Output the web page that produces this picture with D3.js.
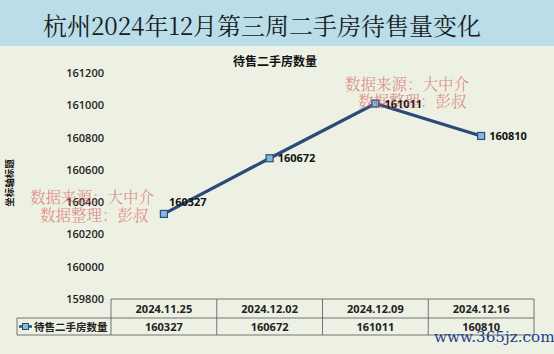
<!DOCTYPE html>
<html><head><meta charset="utf-8">
<script src="https://cdn.jsdelivr.net/npm/d3@7/dist/d3.min.js"></script>
<style>body{margin:0;background:#edf1e3;}svg{display:block;}</style>
</head><body><svg id="c" width="554" height="354"></svg>
<script>
const categories = ["2024.11.25","2024.12.02","2024.12.09","2024.12.16"];
const values = [160327,160672,161011,160810];
const yTicks = [159800,160000,160200,160400,160600,160800,161000,161200];
const seriesName = "待售二手房数量";
const title = "杭州2024年12月第三周二手房待售量变化";
const axisTitle = "坐标轴标题";
const watermark = ["数据来源：大中介","数据整理：彭叔"];

const svg = d3.select("#c");
const W=554,H=354;
const sans = "'Open Sans','Noto Sans CJK SC',sans-serif";
svg.append("rect").attr("width",W).attr("height",H).attr("fill","#edf1e3");
svg.append("rect").attr("width",W).attr("height",46).attr("fill","#b9dde9");
svg.append("text").attr("x",262).attr("y",35).attr("text-anchor","middle")
  .attr("font-family","'Noto Serif CJK SC','Noto Sans CJK SC',serif").attr("font-size",24).attr("fill","#1a1a1a").text(title);
svg.append("text").attr("x",275).attr("y",66).attr("text-anchor","middle")
  .attr("font-family","'Noto Sans CJK SC',sans-serif").attr("font-weight","bold").attr("font-size",12).attr("fill","#111").text(seriesName);

const x = d3.scaleBand().domain(categories).range([111,534]);
const y = d3.scaleLinear().domain([159800,161200]).range([299,73]);

const yAxis = svg.append("g").attr("transform","translate(111,0)")
  .call(d3.axisLeft(y).tickValues(yTicks).tickSize(0).tickPadding(7).tickFormat(d3.format("d")));
yAxis.select(".domain").remove();
yAxis.selectAll("text").attr("font-family",sans).attr("font-weight","600").attr("font-size",11).attr("fill","#222");

svg.append("text").attr("transform","translate(13,183) rotate(-90)").attr("text-anchor","middle")
  .attr("font-family","'Noto Sans CJK SC',sans-serif").attr("font-weight","bold").attr("font-size",9.5).attr("fill","#111").text(axisTitle);

// watermarks
function wm(x1,y1,x2,y2){
  [[x1,y1,watermark[0]],[x2,y2,watermark[1]]].forEach(([a,b,t])=>{
    svg.append("text").attr("x",a).attr("y",b).attr("font-family","'Noto Serif CJK SC','Noto Sans CJK SC',serif")
      .attr("font-size",15.5).attr("fill","rgba(214,85,85,0.65)").text(t);
  });
}
wm(30,203,40,221);

const cx = d=>x(d)+x.bandwidth()/2;
const line = d3.line().x((d,i)=>cx(categories[i])).y(d=>y(d));
svg.append("path").datum(values).attr("d",line).attr("fill","none").attr("stroke","#2a4b7a").attr("stroke-width",3.2);
svg.selectAll("rect.m").data(values).enter().append("rect").attr("class","m")
  .attr("x",(d,i)=>cx(categories[i])-3.5).attr("y",d=>y(d)-3.5).attr("width",7).attr("height",7)
  .attr("fill","#86b8dc").attr("stroke","#2a4b7a").attr("stroke-width",1.2);
const lblOff=[[5,-12],[8,0],[9,0],[8,0]];
svg.selectAll("text.dl").data(values).enter().append("text").attr("class","dl")
  .attr("x",(d,i)=>cx(categories[i])+lblOff[i][0]).attr("y",(d,i)=>y(d)+lblOff[i][1]+4)
  .attr("font-family",sans).attr("font-weight","bold").attr("font-size",11).attr("fill","#111").text(d=>d);

wm(345,90,358,107);

// table
const t0=299,t1=318,t2=335;
const g=svg.append("g").attr("fill","none").attr("stroke","#555").attr("stroke-width",0.8);
g.append("line").attr("x1",111).attr("x2",534).attr("y1",t0).attr("y2",t0);
g.append("line").attr("x1",17).attr("x2",534).attr("y1",t1).attr("y2",t1);
g.append("line").attr("x1",17).attr("x2",534).attr("y1",t2).attr("y2",t2);
g.append("line").attr("x1",17).attr("x2",17).attr("y1",t1).attr("y2",t2);
const bounds=[...categories.map(c=>x(c)),534];
bounds.forEach(b=>g.append("line").attr("x1",b).attr("x2",b).attr("y1",t0).attr("y2",t2));
svg.selectAll("text.h").data(categories).enter().append("text").attr("class","h")
  .attr("x",d=>cx(d)).attr("y",t0+13.5).attr("text-anchor","middle")
  .attr("font-family",sans).attr("font-weight","bold").attr("font-size",11).attr("fill","#222").text(d=>d);
svg.selectAll("text.v").data(values).enter().append("text").attr("class","v")
  .attr("x",(d,i)=>cx(categories[i])).attr("y",t1+13).attr("text-anchor","middle")
  .attr("font-family",sans).attr("font-weight","bold").attr("font-size",11).attr("fill","#222").text(d=>d);
svg.append("line").attr("x1",19).attr("x2",32).attr("y1",326.5).attr("y2",326.5).attr("stroke","#2a4b7a").attr("stroke-width",2.5);
svg.append("rect").attr("x",22.5).attr("y",323.5).attr("width",6).attr("height",6).attr("fill","#86b8dc").attr("stroke","#2a4b7a").attr("stroke-width",1);
svg.append("text").attr("x",34).attr("y",330.5).attr("font-family","'Noto Sans CJK SC',sans-serif").attr("font-weight","bold")
  .attr("font-size",10.5).attr("fill","#222").text(seriesName);

svg.append("text").attr("x",434).attr("y",342).attr("font-family","'DejaVu Serif','Liberation Serif',serif")
  .attr("font-size",15.2).attr("fill","#1c3f8f").text("www.365jz.com");
</script></body></html>
